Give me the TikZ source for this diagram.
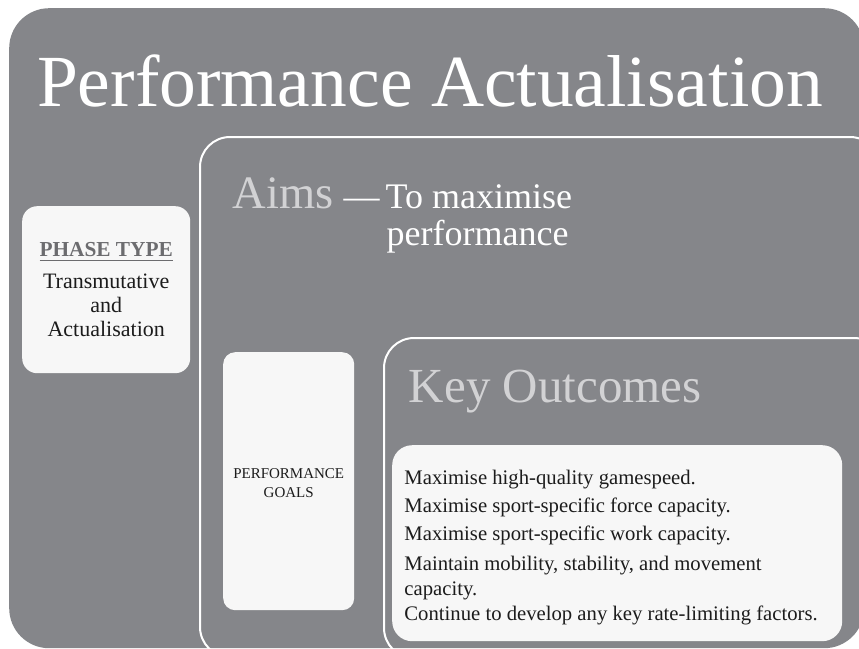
\documentclass[tikz,border=0pt]{standalone}
\usepackage{fontspec}
\setmainfont{Liberation Serif}
\usetikzlibrary{positioning}

\definecolor{slate}{RGB}{133,134,138}
\definecolor{paper}{RGB}{247,247,247}
\definecolor{mist}{RGB}{210,210,212}
\definecolor{ink}{RGB}{28,28,28}
\definecolor{tag}{RGB}{108,108,111}

\newcommand{\lead}[1]{\fontsize{10}{#1}\selectfont}

\begin{document}
\begin{tikzpicture}[x=1pt, y=-1pt, font=\lead{12},
  panel/.style   = {anchor=north west, inner sep=0pt},
  frame/.style   = {panel, draw=white, line width=2pt, rounded corners=30pt},
  card/.style    = {panel, fill=paper},
  words/.style   = {inner sep=0pt, transform shape, scale=#1},
  heading/.style = {words=#1, anchor=base west, text=mist},
  aimtxt/.style  = {words=3.6, anchor=base west, text=white},
]

\useasboundingbox (0,0) rectangle (859,648);
\fill[white] (0,0) rectangle (859,648);
\clip (0,0) rectangle (859,648);

% ---- outer panel ------------------------------------------------------------
\node[panel, fill=slate, rounded corners=40pt, minimum width=855pt,
  minimum height=640pt] (outer) at (9,8) {};
\node[words=7.35, anchor=base, text=white] (title) at (430,106)
  {Performance Actualisation};

% ---- nested frames ----------------------------------------------------------
\node[frame, minimum width=680pt, minimum height=520pt] (aimsbox) at (199,136) {};
\node[frame, minimum width=500pt, minimum height=320pt] (keybox) at (383,337) {};

% ---- aims -------------------------------------------------------------------
\node[heading=4.65] (aims) at (232,208) {Aims};
\node[aimtxt] (aimdash) at (343,208) {—};
\node[aimtxt] (aimline) at (385,208) {To maximise};
\node[aimtxt] (aimline2) at (386,245) {performance};

% ---- phase type card --------------------------------------------------------
\node[card, rounded corners=15pt, minimum width=168pt, minimum height=167pt]
  (phase) at (22,206) {};
\node[words=2.2, align=center, text=ink, font=\lead{10.9}] (phasetxt)
  at (phase.center)
  {\scalebox{0.97}{\color{tag}\textbf{\underline{PHASE TYPE}}}\\[3.6pt]
   Transmutative\\and\\Actualisation};

% ---- goals card -------------------------------------------------------------
\node[card, rounded corners=12pt, minimum width=131pt, minimum height=258pt]
  (goals) at (223,352) {};
\node[words=1.5, align=center, text=ink, font=\lead{12.7}] (goalstxt)
  at ([yshift=-2pt]goals.center) {PERFORMANCE\\GOALS};

% ---- key outcomes -----------------------------------------------------------
\node[heading=4.9] (keyhead) at (408,402) {Key Outcomes};
\node[card, rounded corners=20pt, minimum width=450pt, minimum height=196pt]
  (outcomes) at (392,445) {};
\node[words=2.07, align=left, text=ink, font=\lead{12.08}, anchor=west]
  (outcometxt) at ([xshift=12pt, yshift=-4pt]outcomes.west)
  {Maximise high-quality gamespeed.\\[1.45pt]
   Maximise sport-specific force capacity.\\[1.45pt]
   Maximise sport-specific work capacity.\\[2.4pt]
   Maintain mobility, stability, and movement\\
   capacity.\\
   Continue to develop any key rate-limiting factors.};

\end{tikzpicture}
\end{document}
